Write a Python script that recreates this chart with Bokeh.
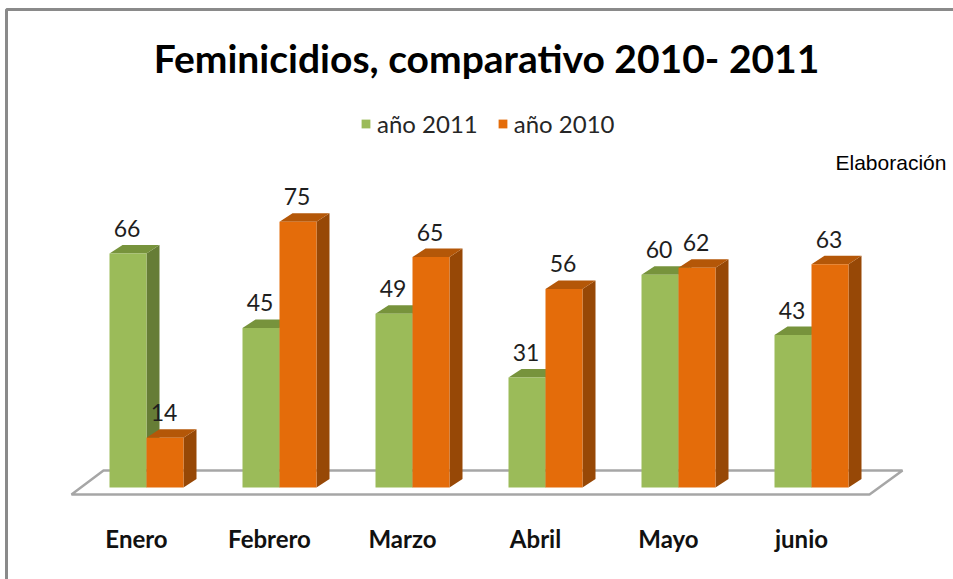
from bokeh.plotting import figure
from bokeh.models import ColumnDataSource, Legend, LegendItem
from bokeh.core.properties import value
from bokeh.embed import file_html
from bokeh.resources import INLINE

# ---- data ----
months = ["Enero", "Febrero", "Marzo", "Abril", "Mayo", "junio"]
y2011 = [66, 45, 49, 31, 60, 43]
y2010 = [14, 75, 65, 56, 62, 63]
series_names = ["año 2011", "año 2010"]
title_text = "Feminicidios, comparativo 2010- 2011"
note_text = "Elaboración"

W, H = 953, 579
# pixel <-> data mapping (group spacing 133 px, 3.545 px per unit)
PX_X0, PX_DX = 146.0, 133.0
PX_Y0, PX_DY = 487.0, 3.545

def ux(px):
    return (px - PX_X0) / PX_DX

def uy(py):
    return (PX_Y0 - py) / PX_DY

p = figure(width=W, height=H, output_backend="svg", toolbar_location=None,
           x_range=(ux(0), ux(W)), y_range=(uy(H), uy(0)),
           min_border=0, min_border_left=0, min_border_right=0,
           min_border_top=0, min_border_bottom=0)
p.axis.visible = False
p.grid.visible = False
p.outline_line_color = None
p.background_fill_color = "white"
p.border_fill_color = "white"

# chart border (extends beyond the window on right/bottom)
p.patch(x=[ux(6), ux(6), ux(W + 20), ux(W + 20), ux(6)],
        y=[uy(H + 20), uy(9), uy(9), uy(H + 20), uy(H + 20)],
        fill_color=None, line_color="#8a8a8a", line_width=3)

# floor
p.patch(x=[ux(71), ux(103), ux(902), ux(869)],
        y=[uy(494), uy(470), uy(470), uy(494)],
        fill_color="white", line_color="#a6a6a6", line_width=2.5)

bw = 37.0 / PX_DX     # bar width
ddx = 13.0 / PX_DX    # depth x
ddy = 8.5 / PX_DY     # depth y

def bar_series(vals, offset, front, top, side, name):
    xs_c = [i + offset for i in range(len(vals))]
    side_xs, side_ys, top_xs, top_ys = [], [], [], []
    for xc, v in zip(xs_c, vals):
        l, r = xc - bw / 2, xc + bw / 2
        side_xs.append([r, r + ddx, r + ddx, r])
        side_ys.append([0, ddy, v + ddy, v])
        top_xs.append([l, l + ddx, r + ddx, r])
        top_ys.append([v, v + ddy, v + ddy, v])
    p.patches(side_xs, side_ys, fill_color=side, line_color=None)
    p.patches(top_xs, top_ys, fill_color=top, line_color=None)
    src = ColumnDataSource(dict(x=xs_c, top=vals, lab=[str(v) for v in vals]))
    r = p.vbar(x="x", top="top", bottom=0, width=bw, source=src,
               fill_color=front, line_color=None)
    p.text(x="x", y="top", text="lab", source=src,
           x_offset=-1, y_offset=-25,
           text_font=value("Lato"), text_font_size="23px",
           text_color="#1e1e1e", text_align="center", text_baseline="middle")
    return r

r1 = bar_series(y2011, -bw / 2, "#9BBB59", "#77933C", "#667D36", series_names[0])
r2 = bar_series(y2010, bw / 2, "#E46C0A", "#B45708", "#974806", series_names[1])

# category labels
p.text(x=list(range(len(months))), y=[uy(538)] * len(months), text=months,
       x_offset=-10,
       text_font=value("Lato"), text_font_style="bold", text_font_size="24px",
       text_color="#111111", text_align="center", text_baseline="middle")

# title
p.text(x=[ux(486)], y=[uy(57)], text=[title_text],
       text_font=value("Lato"), text_font_style="bold", text_font_size="39px",
       text_color="#000000", text_align="center", text_baseline="middle")

# note
p.text(x=[ux(835)], y=[uy(162)], text=[note_text],
       text_font=value("Liberation Sans"), text_font_size="21px",
       text_color="#000000", text_align="left", text_baseline="middle")

legend = Legend(items=[LegendItem(label=series_names[0], renderers=[r1]),
                       LegendItem(label=series_names[1], renderers=[r2])],
                orientation="horizontal", location=(360, H - 138),
                padding=0, margin=0, spacing=19, label_standoff=6,
                glyph_width=11, glyph_height=11, label_height=24,
                label_text_font="Lato", label_text_font_size="24px",
                label_text_color="#262626",
                border_line_color=None, background_fill_alpha=0)
p.add_layout(legend, "center")

open("out.html", "w").write(file_html(p, INLINE))
